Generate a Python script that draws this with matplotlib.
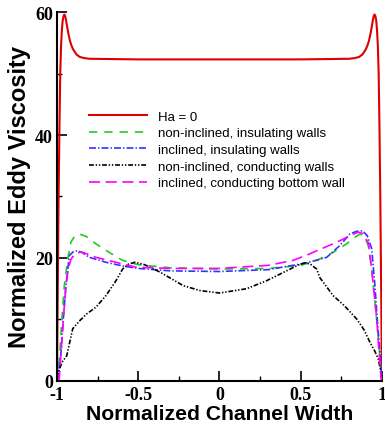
import numpy as np
import matplotlib
matplotlib.use("Agg")
import matplotlib.pyplot as plt
from matplotlib.ticker import MultipleLocator

# Profils de viscosité turbulente normalisée le long de la largeur du canal

# Ha = 0
x_ha0 = [-1.0, -0.995, -0.99, -0.985, -0.98, -0.975, -0.97, -0.965, -0.96, -0.955,
         -0.95, -0.945, -0.94, -0.93, -0.92, -0.91, -0.90, -0.88, -0.86, -0.83,
         -0.80, -0.5, 0.0, 0.5, 0.80, 0.83, 0.86, 0.88, 0.90, 0.91, 0.92, 0.93,
         0.94, 0.945, 0.95, 0.955, 0.96, 0.965, 0.97, 0.975, 0.98, 0.985, 0.99,
         0.995, 1.0]
y_ha0 = [0.0, 16.0, 30.0, 41.0, 50.0, 54.5, 57.0, 58.6, 59.3, 59.6,
         59.4, 58.8, 58.0, 56.5, 55.3, 54.5, 53.9, 53.1, 52.7, 52.5,
         52.4, 52.3, 52.3, 52.3, 52.4, 52.5, 52.7, 53.1, 53.9, 54.5, 55.3, 56.5,
         58.0, 58.8, 59.4, 59.6, 59.3, 58.6, 57.0, 54.5, 50.0, 41.0, 30.0,
         16.0, 0.0]

# non-inclined, insulating walls
x_ni_ins = [-1.0, -0.99, -0.982, -0.97, -0.955, -0.934, -0.914, -0.89, -0.863, -0.82,
            -0.76, -0.678, -0.596, -0.5, -0.3, 0.0, 0.3, 0.5, 0.6, 0.66, 0.7,
            0.783, 0.83, 0.865, 0.895, 0.916, 0.937, 0.957, 0.977, 0.994, 1.0]
y_ni_ins = [0.0, 2.0, 4.7, 10.0, 15.4, 19.8, 22.6, 23.6, 23.9, 23.5,
            22.3, 20.9, 19.6, 18.9, 18.4, 18.2, 18.3, 18.8, 19.6, 20.4, 20.9,
            22.3, 23.3, 23.9, 23.4, 22.0, 18.2, 12.8, 7.4, 1.5, 0.0]

# inclined, insulating walls
x_in_ins = [-1.0, -0.988, -0.975, -0.961, -0.945, -0.924, -0.9, -0.873, -0.84, -0.801,
            -0.698, -0.596, -0.5, -0.3, 0.0, 0.3, 0.452, 0.55, 0.66, 0.74,
            0.803, 0.84, 0.865, 0.883, 0.91, 0.937, 0.957, 0.971, 0.988, 1.0]
y_in_ins = [0.0, 2.0, 4.7, 10.1, 15.5, 20.4, 21.0, 21.2, 20.8, 20.1,
            19.3, 18.7, 18.3, 17.9, 17.8, 18.1, 18.8, 19.3, 20.1, 22.0,
            23.9, 24.3, 24.4, 24.4, 23.6, 21.5, 15.5, 10.1, 4.7, 0.0]

# non-inclined, conducting walls
x_ni_con = [-1.0, -0.99, -0.97, -0.94, -0.903, -0.86, -0.817, -0.76, -0.698, -0.637,
            -0.596, -0.56, -0.52, -0.46, -0.366, -0.223, -0.12, 0.0, 0.167, 0.29,
            0.413, 0.48, 0.526, 0.56, 0.598, 0.618, 0.699, 0.77, 0.844, 0.89,
            0.926, 0.955, 0.977, 0.99, 1.0]
y_ni_con = [0.0, 1.5, 3.0, 4.1, 8.5, 9.8, 10.9, 12.0, 13.9, 16.3,
            18.2, 19.0, 19.3, 18.9, 17.7, 15.5, 14.7, 14.3, 15.0, 16.3,
            17.9, 18.8, 19.2, 19.0, 18.2, 16.8, 13.9, 12.2, 10.1, 8.3,
            6.3, 4.9, 3.6, 2.0, 0.0]

# inclined, conducting bottom wall
x_in_con = [-1.0, -0.986, -0.975, -0.961, -0.945, -0.93, -0.914, -0.89, -0.863, -0.852,
            -0.82, -0.76, -0.637, -0.514, -0.3, 0.0, 0.3, 0.452, 0.55, 0.618,
            0.70, 0.78, 0.844, 0.853, 0.88, 0.916, 0.937, 0.947, 0.968, 0.982,
            0.994, 1.0]
y_in_con = [0.0, 0.3, 4.7, 10.0, 15.5, 18.3, 19.8, 20.6, 20.9, 21.0,
            20.7, 20.1, 19.3, 18.5, 18.3, 18.3, 18.8, 19.6, 20.6, 21.4,
            22.3, 23.3, 24.1, 24.2, 24.0, 22.5, 18.2, 15.5, 10.1, 4.7,
            0.8, 0.0]

plt.rcParams['lines.scale_dashes'] = False

fig = plt.figure(figsize=(3.85, 4.35), dpi=100)
ax = fig.add_axes([0.148, 0.122, 0.844, 0.848])

ax.plot(x_ha0, y_ha0, color='#dd0000', linewidth=1.5, label='Ha = 0')
ax.plot(x_ni_ins, y_ni_ins, color='#22cc22', linewidth=1.2, dashes=(6, 5),
        label='non-inclined, insulating walls')
ax.plot(x_in_ins, y_in_ins, color='#3333ff', linewidth=1.2, dashes=(5, 1.5, 1, 1.5),
        label='inclined, insulating walls')
ax.plot(x_ni_con, y_ni_con, color='black', linewidth=1.2,
        dashes=(3.5, 1.3, 1, 1.3, 1, 1.3), label='non-inclined, conducting walls')
ax.plot(x_in_con, y_in_con, color='#ff00ff', linewidth=1.2, dashes=(8, 4),
        label='inclined, conducting bottom wall')

ax.set_xlim(-1, 1)
ax.set_ylim(0, 60)
ax.xaxis.set_major_locator(MultipleLocator(0.5))
ax.xaxis.set_minor_locator(MultipleLocator(0.25))
ax.yaxis.set_major_locator(MultipleLocator(20))
ax.yaxis.set_minor_locator(MultipleLocator(10))
ax.set_xticks([-1, -0.5, 0, 0.5, 1])
ax.set_xticklabels(['-1', '-0.5', '0', '0.5', '1'])
ax.set_yticks([0, 20, 40, 60])
ax.set_yticklabels(['0', '20', '40', '60'])

ax.spines['top'].set_visible(False)
ax.spines['right'].set_visible(False)
for s in ['left', 'bottom']:
    ax.spines[s].set_linewidth(1.5)

ax.tick_params(which='major', direction='in', length=7, width=1.2, pad=3,
               labelsize=13)
ax.tick_params(axis='x', which='major', pad=3.5)
ax.tick_params(which='minor', direction='in', length=3.5, width=1.0)
for lab in ax.get_xticklabels() + ax.get_yticklabels():
    lab.set_fontfamily('Liberation Serif')
    lab.set_fontweight('bold')

ax.set_xlabel('Normalized Channel Width', fontsize=15.2, fontweight='bold',
              family='Liberation Sans', labelpad=1)
ax.set_ylabel('Normalized Eddy Viscosity', fontsize=17, fontweight='bold',
              family='Liberation Sans', labelpad=3)

leg = ax.legend(loc='upper left', bbox_to_anchor=(0.099, 0.733), frameon=False,
                prop={'family': 'Liberation Sans', 'size': 9.5},
                handlelength=4.4, handletextpad=0.85, labelspacing=0.33,
                borderpad=0, borderaxespad=0)

plt.savefig('out.png', dpi=100)
